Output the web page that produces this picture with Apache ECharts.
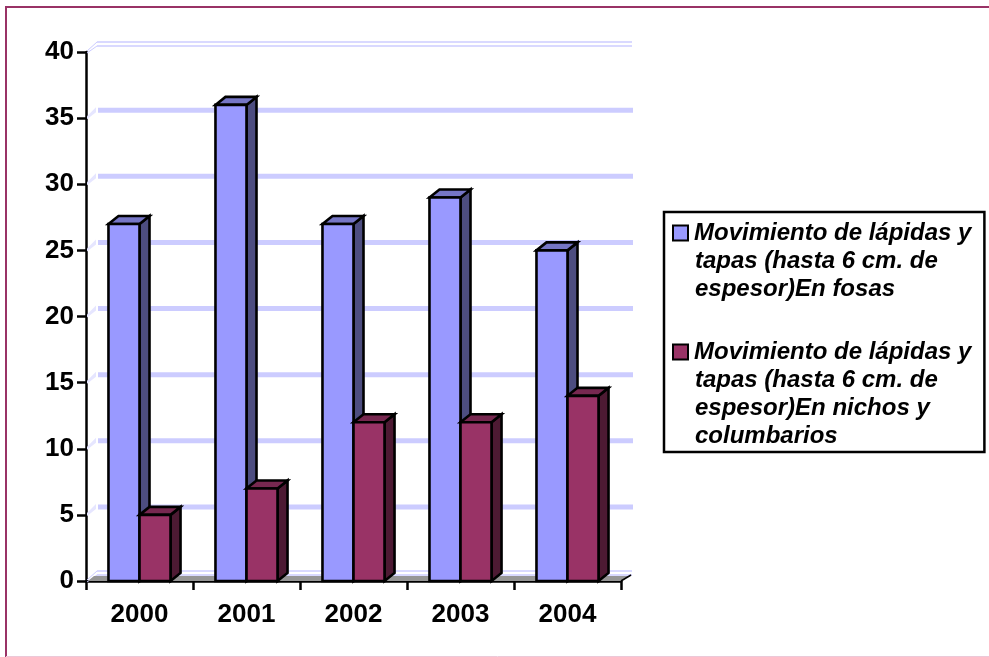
<!DOCTYPE html>
<html><head><meta charset="utf-8">
<style>html,body{margin:0;padding:0;background:#fff}#c{width:989px;height:657px}</style>
<script src="https://cdn.jsdelivr.net/npm/echarts@6/dist/echarts.min.js"></script>
</head><body><div id="c"></div>
<script>
const categories = ['2000','2001','2002','2003','2004'];
const fosas = [27,36,27,29,25];
const nichos = [5,7,12,12,14];
const ticks = [0,5,10,15,20,25,30,35,40];
const nameFosas = 'Movimiento de lápidas y tapas (hasta 6 cm. de espesor)En fosas';
const nameNichos = 'Movimiento de lápidas y tapas (hasta 6 cm. de espesor)En nichos y columbarios';
const linesFosas = ['Movimiento de lápidas y','tapas (hasta 6 cm. de','espesor)En fosas'];
const linesNichos = ['Movimiento de lápidas y','tapas (hasta 6 cm. de','espesor)En nichos y','columbarios'];

const DX = 10, DY = 8;
const chart = echarts.init(document.getElementById('c'));

function barItem(side, colors){
  return function(params, api){
    const v = api.value(1);
    const top = api.coord([api.value(0), v]);
    const base = api.coord([api.value(0), 0]);
    const w = api.size([1,0])[0] * 0.29;
    const x0 = side < 0 ? top[0]-w : top[0];
    const x1 = x0 + w;
    const ln = {stroke:'#000', lineWidth:2.6, lineJoin:'miter'};
    return {type:'group', children:[
      {type:'polygon', shape:{points:[[x1,base[1]],[x1+DX,base[1]-DY],[x1+DX,top[1]-DY],[x1,top[1]]]}, style:Object.assign({fill:colors[2]},ln)},
      {type:'polygon', shape:{points:[[x0,top[1]],[x0+DX,top[1]-DY],[x1+DX,top[1]-DY],[x1,top[1]]]}, style:Object.assign({fill:colors[1]},ln)},
      {type:'rect', shape:{x:x0,y:top[1],width:w,height:base[1]-top[1]}, style:Object.assign({fill:colors[0]},ln)}
    ]};
  };
}
function wallItem(params, api){
  const t = api.value(1);
  const y = api.coord([0,t])[1];
  const cs = params.coordSys;
  const xl = cs.x, xr = cs.x + cs.width;
  const col = '#ccccff';
  const kids = [];
  if (t === 0 || t === 40) {
    [-2,2].forEach(function(o){
      kids.push({type:'line',shape:{x1:xl+DX+1,y1:y-DY+o,x2:xr+DX+1,y2:y-DY+o},style:{stroke:col,lineWidth:1.5}});
      kids.push({type:'line',shape:{x1:xl+1,y1:y+o*0.5,x2:xl+DX+1,y2:y-DY+o},style:{stroke:col,lineWidth:1}});
    });
  } else {
    kids.push({type:'rect',shape:{x:xl+DX+2,y:y-DY-2.5,width:cs.width,height:5},style:{fill:col}});
    kids.push({type:'polygon',shape:{points:[[xl+1,y-2],[xl+DX,y-DY-3],[xl+DX,y-DY+2],[xl+1,y+1]]},style:{fill:'#e6e6ff'}});
  }
  if (t === 0) {
    kids.push({type:'polygon',shape:{points:[[xl+2,y],[xl+8,y-5],[xr+9,y-5],[xr,y]]},style:{fill:'#969696'}});
    kids.push({type:'line',shape:{x1:xr,y1:y,x2:xr+10,y2:y-6},style:{stroke:'#000',lineWidth:1.5}});
  }
  return {type:'group',children:kids};
}
function legendLabel(lines, swatch){
  return lines.map(function(l,i){
    return (i===0 ? '{'+swatch+'|}' : '{in|}') + '{t|'+l+'}';
  }).join('\n');
}
const txt = {fontFamily:'Liberation Sans',fontSize:24,fontWeight:'bold',fontStyle:'italic',color:'#000',lineHeight:28};
const sw = {width:13,height:13,borderColor:'#000',borderWidth:2,align:'left'};

chart.setOption({
  animation:false,
  backgroundColor:'#fff',
  grid:{left:86,top:52,width:535,height:529,containLabel:false},
  xAxis:{type:'category',data:categories,
    axisLine:{lineStyle:{color:'#000',width:2.5}},
    axisTick:{show:true,length:9,lineStyle:{color:'#000',width:2.5}},
    axisLabel:{fontFamily:'Liberation Sans',fontSize:26,fontWeight:'bold',color:'#000',margin:21}},
  yAxis:{type:'value',min:0,max:40,interval:5,
    splitLine:{show:false},
    axisLine:{show:true,lineStyle:{color:'#000',width:2.5}},
    axisTick:{show:true,length:9,lineStyle:{color:'#000',width:2.5}},
    axisLabel:{fontFamily:'Liberation Sans',fontSize:26,fontWeight:'bold',color:'#000',margin:12}},
  legend:{orient:'vertical',left:664,top:212,icon:'none',itemWidth:0,itemHeight:0,itemGap:39,selectedMode:false,
    padding:[9,13,4,5],borderColor:'#000',borderWidth:2.5,backgroundColor:'#fff',
    data:[nameFosas,nameNichos],
    formatter:function(n){ return n===nameFosas ? legendLabel(linesFosas,'a') : legendLabel(linesNichos,'b'); },
    textStyle:{rich:{
      a:Object.assign({backgroundColor:'#9999ff'},sw),
      b:Object.assign({backgroundColor:'#993366'},sw),
      in:{width:14,height:13},
      t:Object.assign({padding:[0,0,0,7]},txt)
    }}},
  series:[
    {type:'custom',name:'wall',z:1,silent:true,renderItem:wallItem,encode:{x:0,y:1},
      data:ticks.map(function(t){return [0,t];})},
    {type:'custom',name:nameFosas,z:3,itemStyle:{color:'#9999ff'},encode:{x:0,y:1},
      renderItem:barItem(-1,['#9999ff','#7676c6','#4d4d80']),
      data:fosas.map(function(v,i){return [i,v];})},
    {type:'custom',name:nameNichos,z:4,itemStyle:{color:'#993366'},encode:{x:0,y:1},
      renderItem:barItem(1,['#993366','#772850','#4d1a33']),
      data:nichos.map(function(v,i){return [i,v];})}
  ],
  graphic:[
    {type:'polyline',z:10,silent:true,shape:{points:[[6,657],[6,7],[989,7]]},style:{fill:null,stroke:'#993366',lineWidth:2}},
    {type:'line',z:10,silent:true,shape:{x1:6,y1:656.5,x2:989,y2:656.5},style:{stroke:'#ecc8d8',lineWidth:1}}
  ]
});
</script></body></html>
